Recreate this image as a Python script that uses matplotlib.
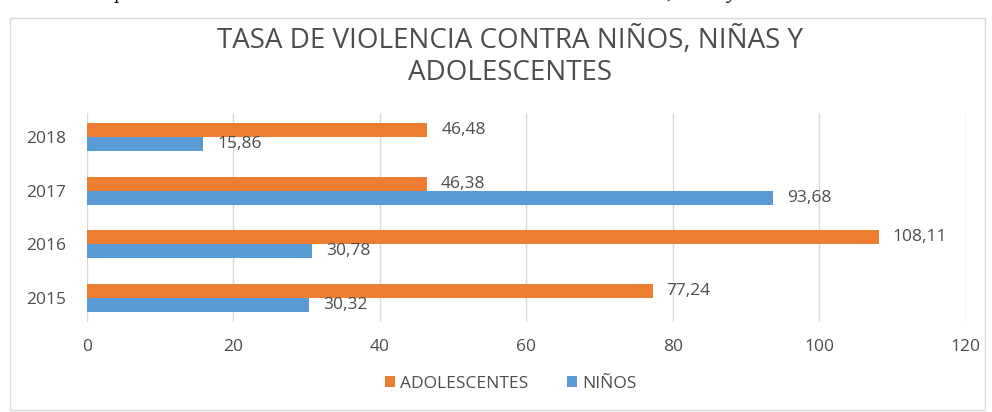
import numpy as np
import matplotlib
matplotlib.use("Agg")
from matplotlib import pyplot as plt
from matplotlib.patches import Rectangle

years = ["2015", "2016", "2017", "2018"]
adolescentes = [77.24, 108.11, 46.38, 46.48]
ninos = [30.32, 30.78, 93.68, 15.86]
x_ticks = [0, 20, 40, 60, 80, 100, 120]

orange = "#ED7D31"
blue = "#5B9BD5"
gray_text = "#4d4d4d"

plt.rcParams["font.family"] = ["Open Sans", "DejaVu Sans"]

fig = plt.figure(figsize=(9.92, 4.12), dpi=100)
fig.patches.append(Rectangle((0.010, 0.005), 0.983, 0.952, transform=fig.transFigure,
                             fill=False, edgecolor="#d9d9d9", linewidth=1.0))

# caption of the document, cut off at the top
fig.text(0.114, 1.003, "p", family="DejaVu Serif", fontsize=12, color="black", va="baseline")
fig.text(0.575, 1.004, "Ilustración 1: Tasa de violencia contra niños, niñas y adolescentes",
         family="Liberation Serif", style="italic", fontsize=15, color="black",
         ha="center", va="baseline")

ax = fig.add_axes([0.0877, 0.2184, 0.886, 0.507])
y = np.arange(len(years))
h = 0.26
ax.barh(y + h / 2, adolescentes, height=h, color=orange, label="ADOLESCENTES", zorder=3)
ax.barh(y - h / 2, ninos, height=h, color=blue, label="NIÑOS", zorder=3)

for yi, v in zip(y, adolescentes):
    ax.annotate(f"{v:.2f}".replace(".", ","), (v, yi + h / 2), xytext=(10, 0),
                textcoords="offset points", va="center", ha="left",
                fontsize=12.5, color=gray_text)
for yi, v in zip(y, ninos):
    ax.annotate(f"{v:.2f}".replace(".", ","), (v, yi - h / 2), xytext=(10, 0),
                textcoords="offset points", va="center", ha="left",
                fontsize=12.5, color=gray_text)

ax.set_xlim(0, 120)
ax.set_ylim(-0.45, 3.45)
ax.set_xticks(x_ticks)
ax.set_yticks(y)
ax.set_yticklabels(years)
ax.tick_params(axis="both", length=0, labelsize=12.5, labelcolor=gray_text)
ax.tick_params(axis="x", pad=12)
ax.tick_params(axis="y", pad=15)
ax.grid(axis="x", color="#d9d9d9", linewidth=1.0, zorder=0)
for s in ax.spines.values():
    s.set_visible(False)

fig.text(0.514, 0.862, "TASA DE VIOLENCIA CONTRA NIÑOS, NIÑAS Y\nADOLESCENTES",
         ha="center", va="center", fontsize=20, color=gray_text, linespacing=1.2)

handles, labels = ax.get_legend_handles_labels()
fig.legend(handles, labels, loc="center", bbox_to_anchor=(0.515, 0.068), ncol=2,
           frameon=False, fontsize=12.5, labelcolor=gray_text, handlelength=0.6,
           handleheight=0.6, handletextpad=0.3, columnspacing=2.2)

fig.savefig("out.png", dpi=100)
